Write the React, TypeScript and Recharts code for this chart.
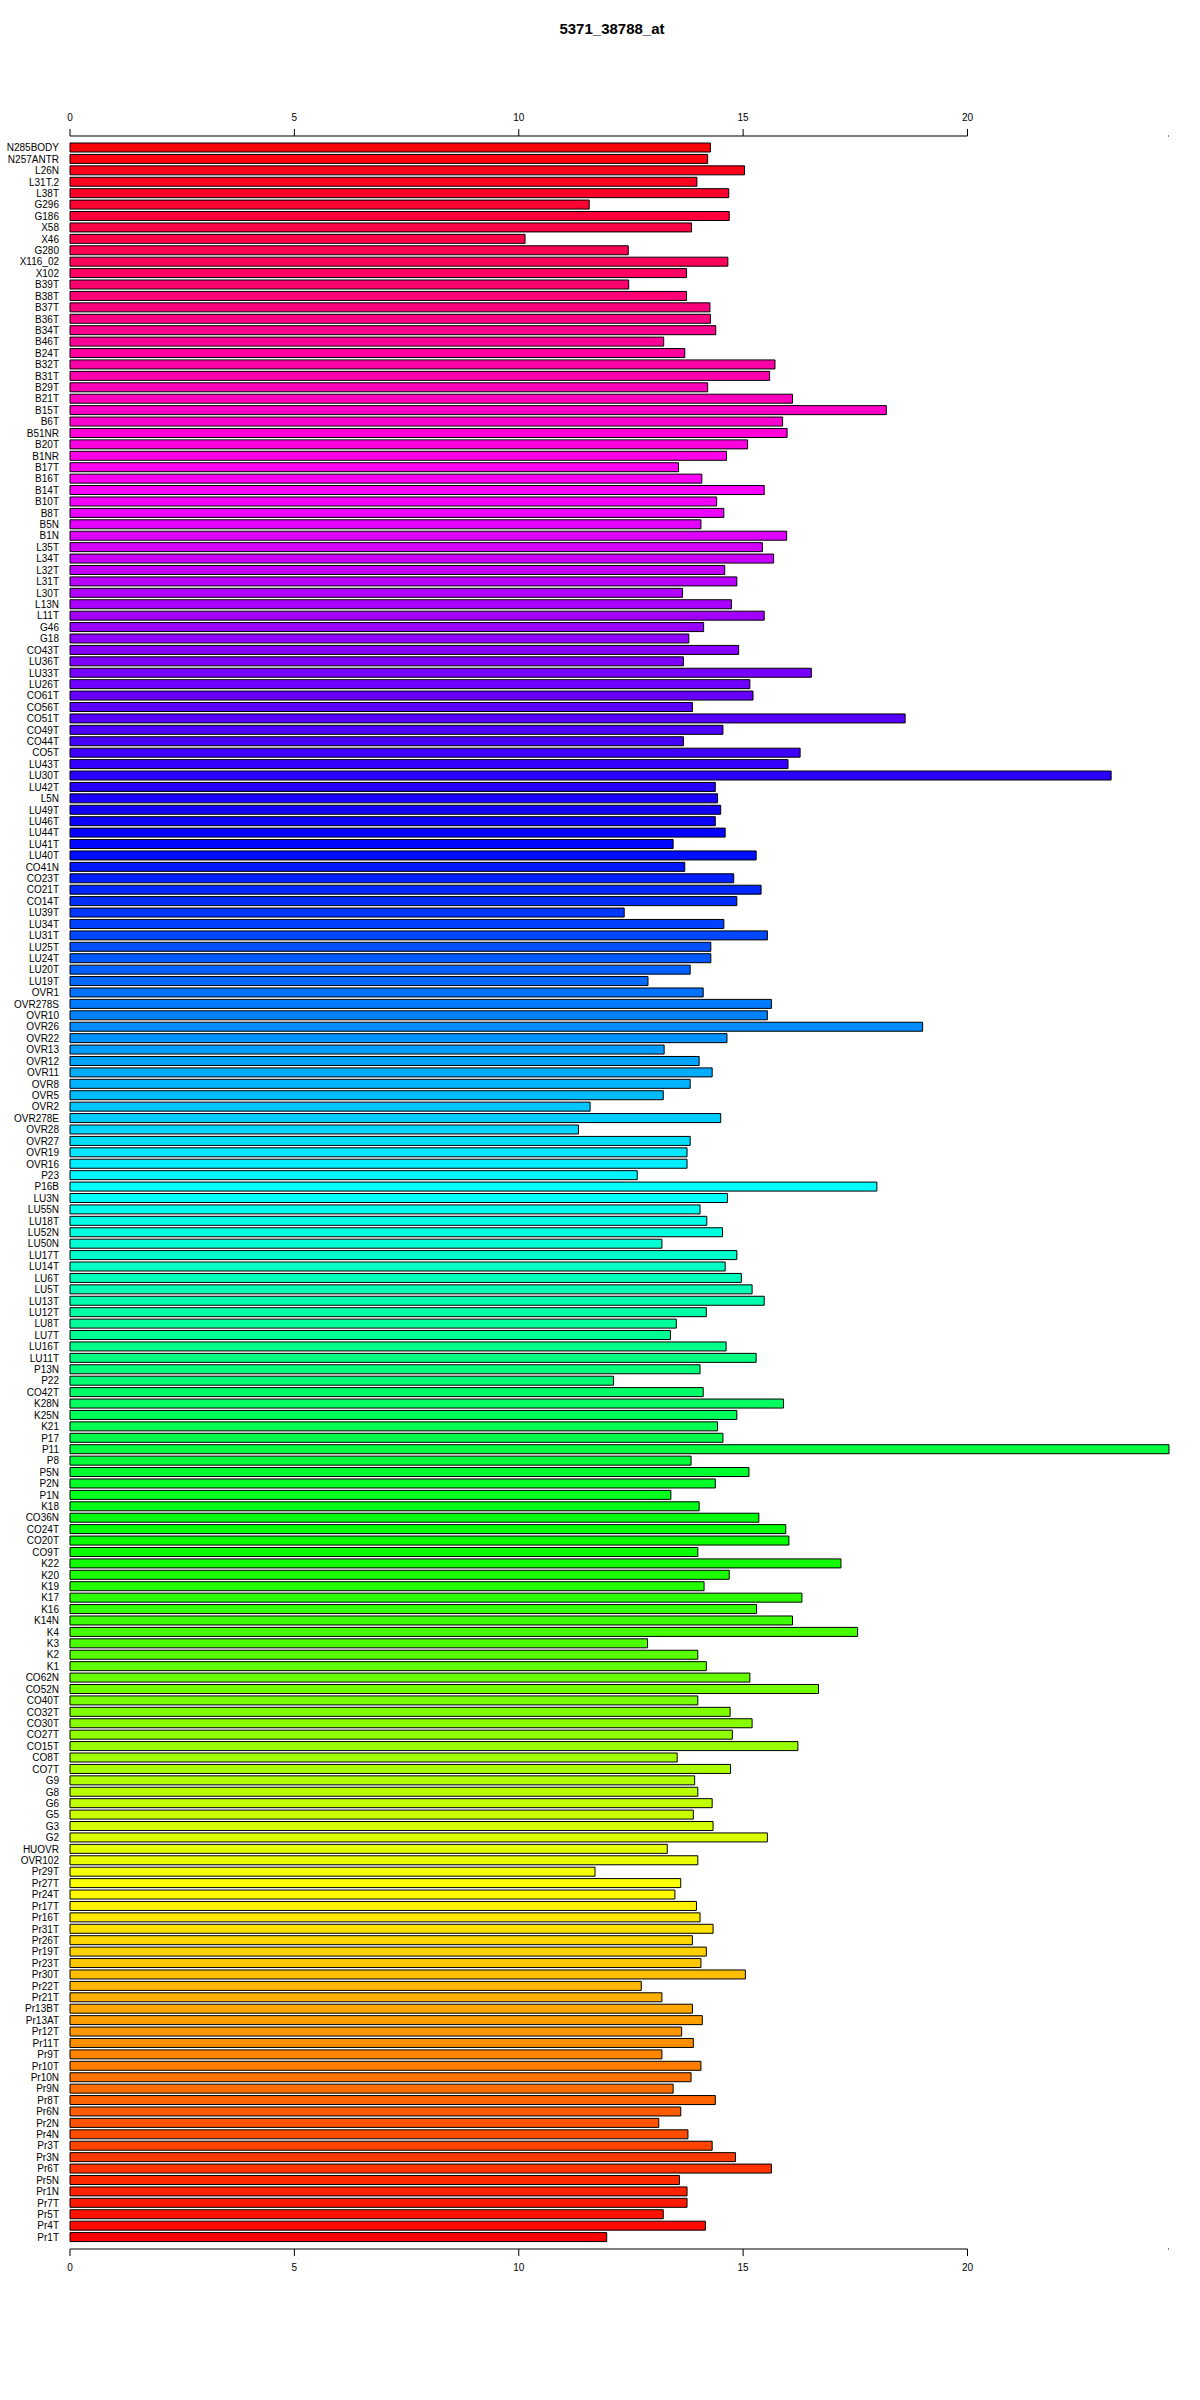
import { Bar, BarChart, Cell, XAxis, YAxis } from "recharts";

const title = "5371_38788_at";

const samples = [
  "N285BODY", "N257ANTR", "L26N", "L31T.2", "L38T", "G296", "G186", "X58", "X46", "G280",
  "X116_02", "X102", "B39T", "B38T", "B37T", "B36T", "B34T", "B46T", "B24T", "B32T",
  "B31T", "B29T", "B21T", "B15T", "B6T", "B51NR", "B20T", "B1NR", "B17T", "B16T",
  "B14T", "B10T", "B8T", "B5N", "B1N", "L35T", "L34T", "L32T", "L31T", "L30T",
  "L13N", "L11T", "G46", "G18", "CO43T", "LU36T", "LU33T", "LU26T", "CO61T", "CO56T",
  "CO51T", "CO49T", "CO44T", "CO5T", "LU43T", "LU30T", "LU42T", "L5N", "LU49T", "LU46T",
  "LU44T", "LU41T", "LU40T", "CO41N", "CO23T", "CO21T", "CO14T", "LU39T", "LU34T", "LU31T",
  "LU25T", "LU24T", "LU20T", "LU19T", "OVR1", "OVR278S", "OVR10", "OVR26", "OVR22", "OVR13",
  "OVR12", "OVR11", "OVR8", "OVR5", "OVR2", "OVR278E", "OVR28", "OVR27", "OVR19", "OVR16",
  "P23", "P16B", "LU3N", "LU55N", "LU18T", "LU52N", "LU50N", "LU17T", "LU14T", "LU6T",
  "LU5T", "LU13T", "LU12T", "LU8T", "LU7T", "LU16T", "LU11T", "P13N", "P22", "CO42T",
  "K28N", "K25N", "K21", "P17", "P11", "P8", "P5N", "P2N", "P1N", "K18",
  "CO36N", "CO24T", "CO20T", "CO9T", "K22", "K20", "K19", "K17", "K16", "K14N",
  "K4", "K3", "K2", "K1", "CO62N", "CO52N", "CO40T", "CO32T", "CO30T", "CO27T",
  "CO15T", "CO8T", "CO7T", "G9", "G8", "G6", "G5", "G3", "G2", "HUOVR",
  "OVR102", "Pr29T", "Pr27T", "Pr24T", "Pr17T", "Pr16T", "Pr31T", "Pr26T", "Pr19T", "Pr23T",
  "Pr30T", "Pr22T", "Pr21T", "Pr13BT", "Pr13AT", "Pr12T", "Pr11T", "Pr9T", "Pr10T", "Pr10N",
  "Pr9N", "Pr8T", "Pr6N", "Pr2N", "Pr4N", "Pr3T", "Pr3N", "Pr6T", "Pr5N", "Pr1N",
  "Pr7T", "Pr5T", "Pr4T", "Pr1T",
];

const expression = [
  14.27, 14.21, 15.03, 13.97, 14.68, 11.57, 14.69, 13.85, 10.14, 12.44,
  14.66, 13.74, 12.45, 13.74, 14.26, 14.27, 14.39, 13.23, 13.7, 15.71,
  15.59, 14.21, 16.1, 18.19, 15.88, 15.98, 15.1, 14.63, 13.56, 14.08,
  15.47, 14.41, 14.57, 14.06, 15.97, 15.43, 15.68, 14.59, 14.86, 13.65,
  14.74, 15.47, 14.12, 13.79, 14.9, 13.67, 16.52, 15.15, 15.22, 13.87,
  18.61, 14.55, 13.67, 16.27, 16.0, 23.2, 14.38, 14.43, 14.5, 14.38,
  14.6, 13.44, 15.29, 13.7, 14.79, 15.4, 14.86, 12.35, 14.57, 15.54,
  14.28, 14.28, 13.82, 12.88, 14.11, 15.63, 15.54, 19.0, 14.64, 13.24,
  14.02, 14.31, 13.82, 13.22, 11.59, 14.5, 11.33, 13.82, 13.75, 13.75,
  12.64, 17.98, 14.65, 14.04, 14.19, 14.54, 13.19, 14.86, 14.6, 14.96,
  15.2, 15.47, 14.18, 13.51, 13.38, 14.62, 15.29, 14.04, 12.11, 14.11,
  15.9, 14.86, 14.43, 14.55, 24.49, 13.84, 15.13, 14.38, 13.39, 14.02,
  15.35, 15.95, 16.02, 13.99, 17.18, 14.69, 14.13, 16.31, 15.3, 16.1,
  17.55, 12.87, 13.99, 14.18, 15.15, 16.68, 13.99, 14.71, 15.2, 14.76,
  16.22, 13.53, 14.72, 13.92, 13.99, 14.31, 13.89, 14.33, 15.54, 13.31,
  13.99, 11.7, 13.61, 13.48, 13.96, 14.04, 14.33, 13.87, 14.18, 14.06,
  15.05, 12.73, 13.19, 13.87, 14.09, 13.63, 13.89, 13.19, 14.06, 13.84,
  13.44, 14.38, 13.61, 13.12, 13.77, 14.31, 14.83, 15.63, 13.58, 13.75,
  13.75, 13.22, 14.16, 11.96,
];

const xTicks = [0, 5, 10, 15, 20];

const WIDTH = 1200;
const HEIGHT = 2400;
const Y_AXIS_WIDTH = 70;
const margin = { top: 96, right: 31, bottom: 111, left: 0 };
const font = "'Liberation Sans', Arial, sans-serif";

const App = () => {
  const data = samples.map((name, i) => ({ name, value: expression[i] }));
  const maxVal = Math.max(...expression);

  // R only draws the axis up to the last pretty tick, plus a dot at the plot edge
  const plotW = WIDTH - margin.left - margin.right - Y_AXIS_WIDTH;
  const axisLen = (plotW * xTicks[xTicks.length - 1]) / maxVal;
  const axisLine = {
    stroke: "#000",
    strokeDasharray: `${axisLen} ${plotW - axisLen - 1} 1`,
  };

  // rainbow(n): first colour belongs to the bottom bar
  const n = data.length;
  const barColor = (i: number) => `hsl(${((n - 1 - i) / n) * 360}, 100%, 50%)`;

  const tickStyle = { fontSize: 10, fill: "#000", fontFamily: font };

  return (
    <div style={{ position: "absolute", left: 0, top: 0, width: WIDTH, height: HEIGHT, background: "#fff" }}>
      <div
        style={{
          position: "absolute",
          top: 20,
          left: 0,
          width: 1224,
          textAlign: "center",
          fontFamily: font,
          fontWeight: "bold",
          fontSize: 15,
          color: "#000",
        }}
      >
        {title}
      </div>
      <BarChart
        width={WIDTH}
        height={HEIGHT}
        data={data}
        layout="vertical"
        margin={margin}
        barCategoryGap={1}
      >
        <XAxis
          xAxisId="top"
          orientation="top"
          type="number"
          domain={[0, maxVal]}
          ticks={xTicks}
          height={40}
          axisLine={axisLine}
          tickLine={{ stroke: "#000" }}
          tickSize={7}
          tickMargin={8}
          tick={tickStyle}
        />
        <XAxis
          xAxisId="bottom"
          orientation="bottom"
          type="number"
          domain={[0, maxVal]}
          allowDataOverflow
          ticks={xTicks}
          height={40}
          axisLine={axisLine}
          tickLine={{ stroke: "#000" }}
          tickSize={7}
          tickMargin={8}
          tick={tickStyle}
        />
        <YAxis
          type="category"
          dataKey="name"
          width={Y_AXIS_WIDTH}
          interval={0}
          axisLine={false}
          tickLine={false}
          tickSize={0}
          tickMargin={11}
          padding={{ top: 6, bottom: 6 }}
          tick={tickStyle}
        />
        <Bar dataKey="value" xAxisId="top" stroke="#000" strokeWidth={1} isAnimationActive={false}>
          {data.map((d, i) => (
            <Cell key={d.name} fill={barColor(i)} />
          ))}
        </Bar>
      </BarChart>
    </div>
  );
};

export default App;
